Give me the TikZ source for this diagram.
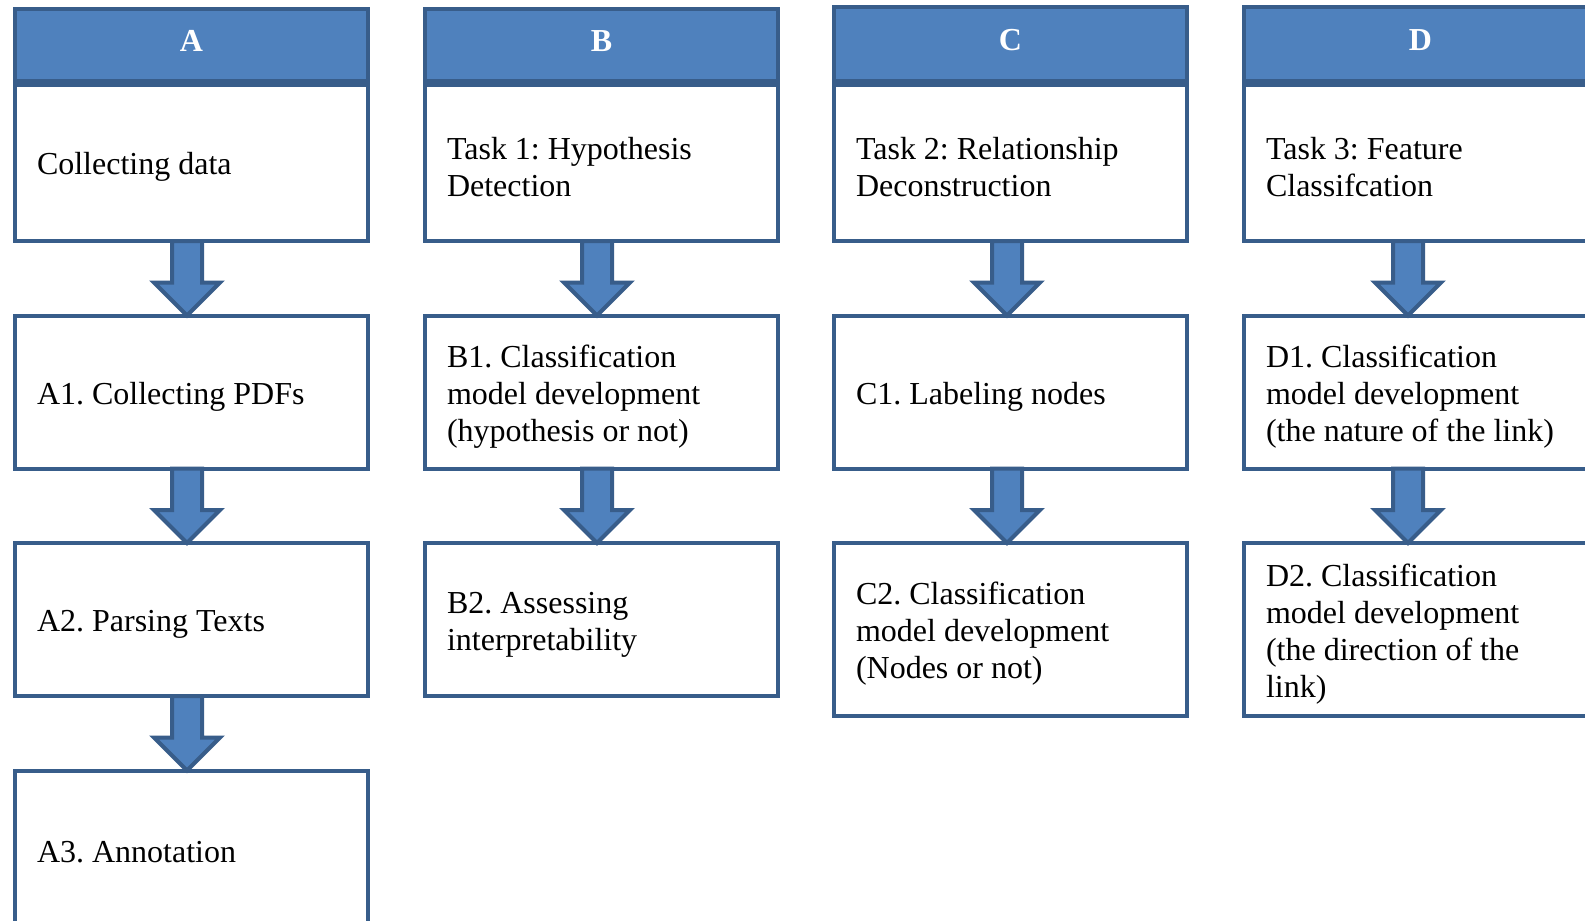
\documentclass[tikz,border=0pt]{standalone}
\usepackage{fontspec}
\setmainfont{Liberation Serif}
\usetikzlibrary{positioning}
\definecolor{stepfill}{HTML}{4F81BD}
\definecolor{stepline}{HTML}{385D8A}
\frenchspacing

\tikzset{
  phase/.style={draw=stepline, fill=stepfill, line width=2pt, minimum width=176.5pt, minimum height=35.75pt,
    inner sep=0pt, outer sep=0pt, text=white, text depth=4pt, font=\fontsize{16}{18.5}\selectfont\bfseries},
  task/.style={draw=stepline, fill=white, line width=2pt, minimum width=176.5pt, minimum height=76.5pt,
    inner xsep=11pt, inner ysep=0pt, outer sep=0pt, text width=154.5pt, align=left,
    font=\fontsize{16}{18.5}\selectfont, execute at begin node={\spaceskip=4pt\relax\rule{0pt}{15.5pt}}},
  blockarr/.style={draw=stepline, fill=stepfill, line width=2pt, line join=miter},
}

% block arrow from one box down to the next
\newcommand{\flowarrow}[3][-2.25pt]{%
  \draw[blockarr] ([xshift=#1-7.5pt]#2.south) -- ([xshift=#1-7.5pt,yshift=16.5pt]#3.north) -- ++(-9pt,0)
    -- ([xshift=#1]#3.north) -- ([xshift=#1+16.5pt,yshift=16.5pt]#3.north) -- ++(-9pt,0)
    -- ([xshift=#1+7.5pt]#2.south) -- cycle;}

\begin{document}
\begin{tikzpicture}[node distance=37.25pt]
  \useasboundingbox (0,0) rectangle (792.5pt,-460.5pt);
  \clip (0,0) rectangle (792.5pt,-460.5pt);
  \fill[white] (0,0) rectangle (792.5pt,-460.5pt);

  % column A
  \node[phase, anchor=north] (ha) at (95.75pt,-4.5pt) {A};
  \node[task, minimum height=78.25pt, below=2pt of ha] (a0) {Collecting data};
  \node[task, below=of a0] (a1) {A1. Collecting PDFs};
  \node[task, below=of a1] (a2) {A2. Parsing Texts};
  \node[task, below=of a2] (a3) {A3. Annotation};

  % column B
  \node[phase, anchor=north] (hb) at (300.75pt,-4.5pt) {B};
  \node[task, minimum height=78.25pt, below=2pt of hb] (b0) {Task 1: Hypothesis\\Detection};
  \node[task, below=of b0] (b1) {B1. Classification\\model development\\(hypothesis or not)};
  \node[task, below=of b1] (b2) {B2. Assessing\\interpretability};

  % column C
  \node[phase, minimum height=36.75pt, anchor=north] (hc) at (505.25pt,-3.5pt) {C};
  \node[task, minimum height=78.25pt, below=2pt of hc] (c0) {Task 2: Relationship\\Deconstruction};
  \node[task, below=of c0] (c1) {C1. Labeling nodes};
  \node[task, minimum height=86.5pt, below=of c1] (c2) {C2. Classification\\model development\\(Nodes or not)};

  % column D
  \node[phase, minimum height=36.75pt, anchor=north] (hd) at (710.25pt,-3.5pt) {D};
  \node[task, minimum height=78.25pt, below=2pt of hd] (d0) {Task 3: Feature\\Classifcation};
  \node[task, below=of d0] (d1) {D1. Classification\\model development\\(the nature of the link)};
  \node[task, minimum height=86.5pt, below=of d1] (d2) {D2. Classification\\model development\\(the direction of the\\link)};

  % arrows
  \flowarrow{a0}{a1}
  \flowarrow{a1}{a2}
  \flowarrow{a2}{a3}
  \flowarrow{b0}{b1}
  \flowarrow{b1}{b2}
  \flowarrow[-1.75pt]{c0}{c1}
  \flowarrow[-1.75pt]{c1}{c2}
  \flowarrow[-6.25pt]{d0}{d1}
  \flowarrow[-6.25pt]{d1}{d2}
\end{tikzpicture}
\end{document}
